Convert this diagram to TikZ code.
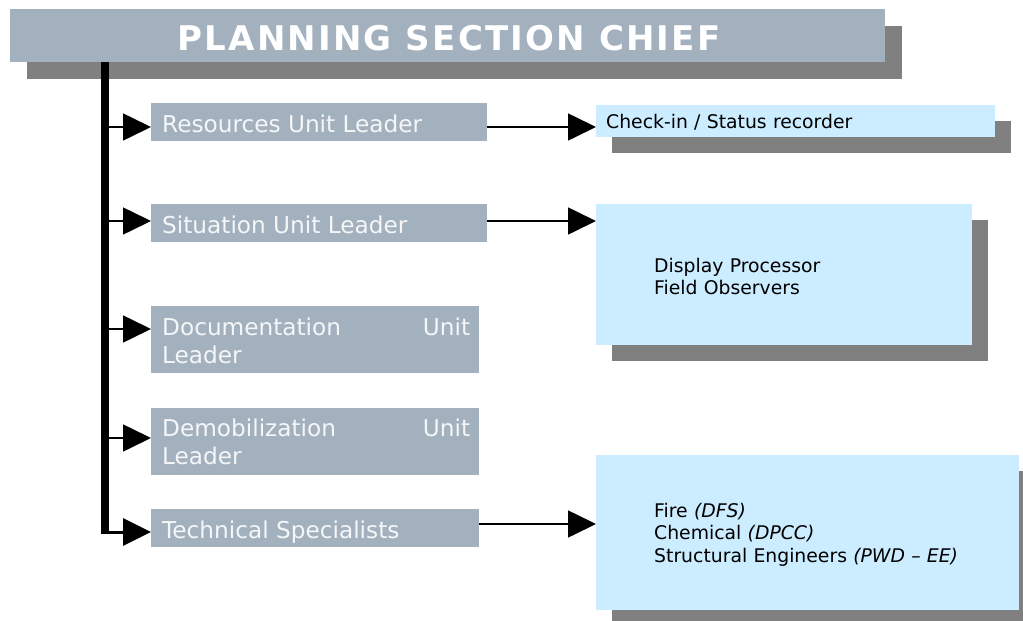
\documentclass[tikz,border=0pt]{standalone}
\usepackage{fontspec}
\setmainfont{DejaVu Sans}
\usetikzlibrary{arrows.meta,shadows}
\definecolor{boxgray}{HTML}{A3B1BF}
\definecolor{shadowgray}{HTML}{808080}
\definecolor{lightblue}{HTML}{CCECFF}
\definecolor{labelwhite}{HTML}{F4F6F8}
\begin{document}
\begin{tikzpicture}[x=1pt,y=-1pt,
  unitbox/.style={rectangle, fill=boxgray, inner sep=0pt, anchor=north west},
  bluebox/.style={rectangle, fill=lightblue, inner sep=0pt, anchor=north west,
    drop shadow={shadow xshift=16pt, shadow yshift=-16pt, fill=shadowgray, opacity=1}},
  unitlabel/.style={inner sep=0pt, anchor=base west, text=labelwhite,
    font=\fontsize{23.2}{28}\selectfont},
  bluelabel/.style={inner sep=0pt, anchor=base west, text=black, align=left,
    text width=360pt, font=\fontsize{18.8}{22.5}\selectfont},
  arr/.style={-{Triangle[length=28pt,width=27pt]}, line width=1.6pt},
  trunkline/.style={line width=8pt}
]
\useasboundingbox (0,0) rectangle (1023,621);

% title
\node[rectangle, fill=boxgray, inner sep=0pt, anchor=north west,
  minimum width=875pt, minimum height=53pt,
  drop shadow={shadow xshift=17pt, shadow yshift=-17pt, fill=shadowgray, opacity=1}]
  (title) at (10,9) {};
\node[inner sep=0pt, anchor=base, text=white,
  font=\fontsize{34}{40}\selectfont\bfseries\addfontfeatures{LetterSpace=6.5}]
  (titletext) at (449,50) {PLANNING SECTION CHIEF};

% left unit boxes
\node[unitbox, minimum width=336pt, minimum height=38pt] (res) at (151,103) {};
\node[unitbox, minimum width=336pt, minimum height=38pt] (sit) at (151,204) {};
\node[unitbox, minimum width=328pt, minimum height=67pt] (doc) at (151,306) {};
\node[unitbox, minimum width=328pt, minimum height=67pt] (dem) at (151,408) {};
\node[unitbox, minimum width=328pt, minimum height=38pt] (tech) at (151,509) {};

\node[unitlabel] (reslbl) at (162,132) {Resources Unit Leader};
\node[unitlabel] (sitlbl) at (162,233) {Situation Unit Leader};
\node[unitlabel, text width=308pt, align=left] (doclbl) at (162,335) {Documentation\hfill Unit\\Leader};
\node[unitlabel, text width=308pt, align=left] (demlbl) at (162,436) {Demobilization\hfill Unit\\Leader};
\node[unitlabel] (techlbl) at (162,538) {Technical Specialists};

% right boxes
\node[bluebox, minimum width=399pt, minimum height=32pt] (chk) at (596,105) {};
\node[bluebox, minimum width=376pt, minimum height=141pt] (obs) at (596,204) {};
\node[bluebox, minimum width=423pt, minimum height=155pt] (spec) at (596,455) {};

\node[bluelabel] (chklbl) at (606,128) {Check-in / Status recorder};
\node[bluelabel] (obslbl) at (654,272) {Display Processor\\Field Observers};
\node[bluelabel] (speclbl) at (654,517) {Fire \textit{(DFS)}\\Chemical \textit{(DPCC)}\\Structural Engineers \textit{(PWD – EE)}};

% trunk
\coordinate (trtop) at (105,62);
\coordinate (r1) at (105,127);
\coordinate (r2) at (105,221);
\coordinate (r3) at (105,329);
\coordinate (r4) at (105,438);
\coordinate (r5) at (105,532);
\coordinate (r5l) at (101,532);
\coordinate (q5) at (105,524);

\draw[trunkline] (title.south -| trtop) -- (r5);
\draw[arr] (r1) -- (r1 -| res.west);
\draw[arr] (r2) -- (r2 -| sit.west);
\draw[arr] (r3) -- (r3 -| doc.west);
\draw[arr] (r4) -- (r4 -| dem.west);
\draw[arr, line width=3pt] (r5l) -- (r5 -| tech.west);

% right connectors
\draw[arr] (r1 -| res.east) -- (r1 -| chk.west);
\draw[arr] (r2 -| sit.east) -- (r2 -| obs.west);
\draw[arr] (q5 -| tech.east) -- (q5 -| spec.west);
\end{tikzpicture}
\end{document}
